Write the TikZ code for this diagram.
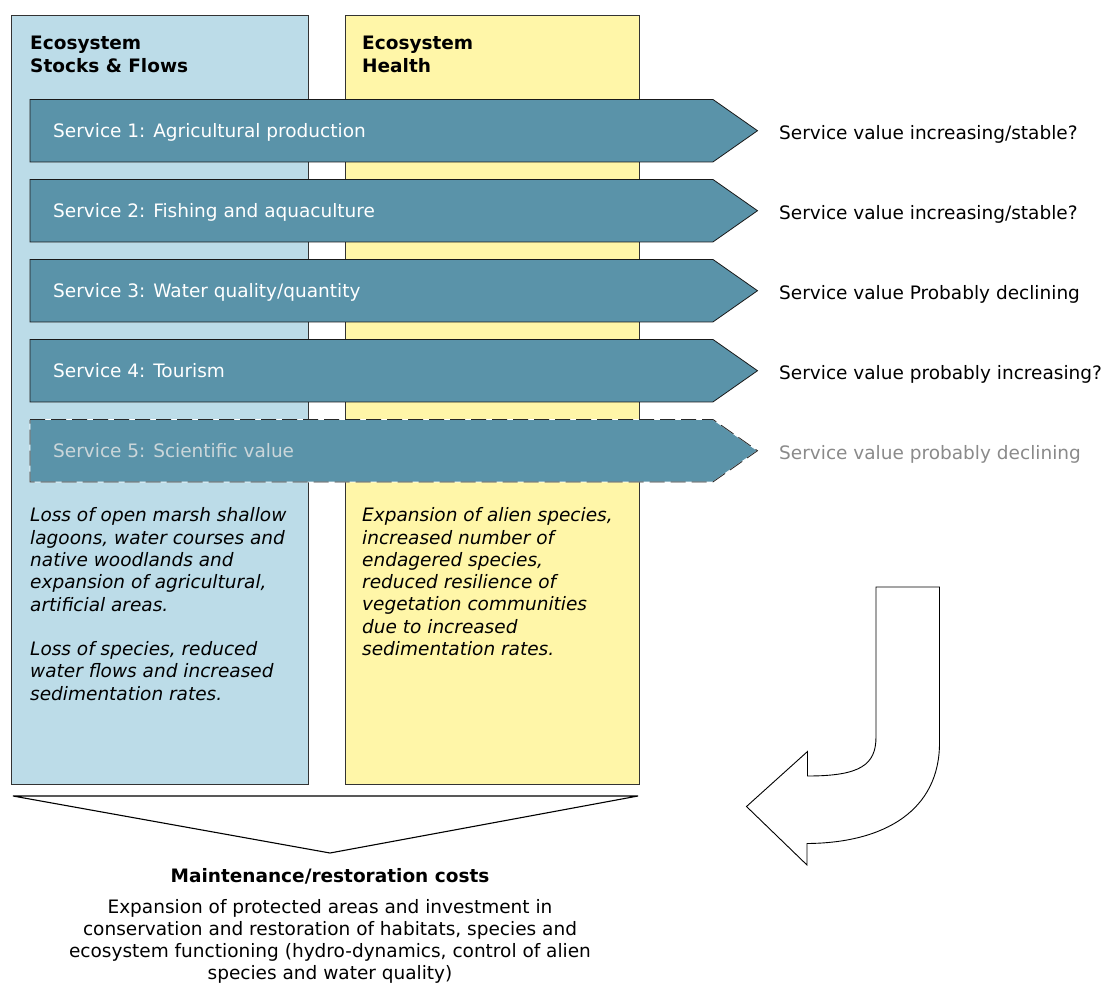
\documentclass[tikz,border=0pt]{standalone}
\usepackage{fontspec}
\setmainfont{DejaVu Sans}
\begin{document}
\begin{tikzpicture}[x=1pt,y=-1pt,
  colbox/.style={draw=black!80, line width=0.8pt},
  svc/.style={fill=arrowblue, draw=black!90, line width=0.8pt},
  svctext/.style={anchor=base west, inner sep=0pt, text=white, font=\fontsize{18.5}{22}\selectfont},
  valtext/.style={anchor=base west, inner sep=0pt, text=black, font=\fontsize{18.5}{22}\selectfont},
  headtext/.style={anchor=base west, inner sep=0pt, align=left, font=\fontsize{18.5}{23}\selectfont\bfseries},
  bodytext/.style={anchor=base west, inner sep=0pt, align=left, font=\fontsize{18.5}{22.3}\selectfont\itshape},
]
\definecolor{boxblue}{HTML}{BCDCE8}
\definecolor{boxyellow}{HTML}{FFF6A8}
\definecolor{arrowblue}{HTML}{5A93A9}
\definecolor{greytext}{HTML}{8A8A8A}
\definecolor{paletext}{HTML}{CBD6DA}
\useasboundingbox (0,0) rectangle (1104,983);

% columns
\path[colbox, fill=boxblue] (11,15) rectangle (308,784);
\path[colbox, fill=boxyellow] (345,15) rectangle (639,784);
% (base anchor of a multi-line node = baseline of its last line)
\node[headtext] (h1) at (30,72.5) {Ecosystem\\Stocks \& Flows};
\node[headtext] (h2) at (362,72.5) {Ecosystem\\Health};

% service arrows
\foreach \i/\t/\v in {1/{Service 1: Agricultural production}/{Service value increasing/stable?},
                       2/{Service 2: Fishing and aquaculture}/{Service value increasing/stable?},
                       3/{Service 3: Water quality/quantity}/{Service value Probably declining},
                       4/{Service 4: Tourism}/{Service value probably increasing?}}{
  \pgfmathsetmacro{\top}{99.5+80*(\i-1)}
  \path[svc] (30,\top) -- (713,\top) -- (757.5,\top+31.2) -- (713,\top+62.4) -- (30,\top+62.4) -- cycle;
  \node[svctext] (s\i) at (53,\top+38) {\t};
  \node[valtext] (v\i) at (779,\top+40) {\v};
}
% service 5 (dashed)
\path[fill=arrowblue, draw=white, line width=0.8pt] (30,419.5) -- (713,419.5) -- (757.5,450.7) -- (713,481.9) -- (30,481.9) -- cycle;
\path[draw=black!85, line width=0.8pt, dash pattern=on 15pt off 6pt] (30,419.5) -- (713,419.5) -- (757.5,450.7) -- (713,481.9) -- (30,481.9) -- cycle;
\node[svctext, text=paletext] (s5) at (53,457.5) {Service 5: Scientific value};
\node[valtext, text=greytext] (v5) at (779,459.5) {Service value probably declining};

% descriptions
\node[bodytext] (d1) at (30,700.2) {Loss of open marsh shallow\\lagoons, water courses and\\native woodlands and\\expansion of agricultural,\\artificial areas.\\[22.3pt]Loss of species, reduced\\water flows and increased\\sedimentation rates.};
\node[bodytext] (d2) at (362,655.5) {Expansion of alien species,\\increased number of\\endagered species,\\reduced resilience of\\vegetation communities\\due to increased\\sedimentation rates.};

% bottom funnel
\path[draw=black, line width=1.1pt, fill=white] (13,796) -- (638,796) -- (330,853) -- cycle;
\node[anchor=base, inner sep=0pt, font=\fontsize{18.5}{22}\selectfont\bfseries] (mc) at (330,882) {Maintenance/restoration costs};
\node[anchor=base, inner sep=0pt, align=center, font=\fontsize{18.5}{22}\selectfont] (md) at (330,979.5) {Expansion of protected areas and investment in\\conservation and restoration of habitats, species and\\ecosystem functioning (hydro-dynamics, control of alien\\species and water quality)};

% curved return arrow
\path[draw=black, line width=0.9pt, fill=white]
  (876,587) -- (939.5,587) -- (939.5,743)
  .. controls (939.5,810) and (885,843) .. (807,843.5)
  -- (807,865) -- (746.5,806.5) -- (807.5,751.5) -- (807.5,776)
  .. controls (860,776) and (876,765) .. (876,737) -- cycle;
\end{tikzpicture}
\end{document}
